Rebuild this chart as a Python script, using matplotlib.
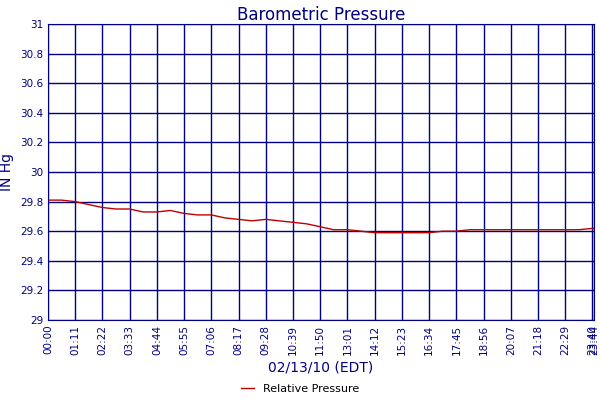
import matplotlib.pyplot as plt
import matplotlib.ticker as ticker

# readings, minutes since midnight -> inches of mercury
minutes = [0, 35, 71, 106, 142, 177, 213, 248, 284, 319, 355, 390, 426, 461,
           497, 532, 568, 603, 639, 674, 710, 745, 781, 816, 852, 887, 923,
           958, 994, 1029, 1065, 1100, 1136, 1171, 1207, 1242, 1278, 1313,
           1349, 1384, 1424]
pressure = [29.81, 29.81, 29.80, 29.78, 29.76, 29.75, 29.75, 29.73, 29.73,
            29.74, 29.72, 29.71, 29.71, 29.69, 29.68, 29.67, 29.68, 29.67,
            29.66, 29.65, 29.63, 29.61, 29.61, 29.60, 29.59, 29.59, 29.59,
            29.59, 29.59, 29.60, 29.60, 29.61, 29.61, 29.61, 29.61, 29.61,
            29.61, 29.61, 29.61, 29.61, 29.62]
tick_pos = list(range(0, 1421, 71)) + [1424]
tick_labels = ['%02d:%02d' % (m // 60, m % 60) for m in tick_pos]

navy = '#000080'
fig = plt.figure(figsize=(6, 4), dpi=100)
ax = fig.add_axes([0.08, 0.2, 0.91, 0.74])

line, = ax.plot(minutes, pressure, color='#c00000', lw=1.0,
                label='Relative Pressure')

ax.set_xlim(0, 1424)
ax.set_ylim(29, 31)
ax.yaxis.set_major_locator(ticker.MultipleLocator(0.2))
ax.yaxis.set_major_formatter(ticker.FuncFormatter(lambda v, p: ('%.1f' % v).rstrip('0').rstrip('.')))
ax.set_xticks(tick_pos)
ax.set_xticklabels(tick_labels, rotation=90)
ax.tick_params(colors=navy, labelsize=7.5, length=0)
ax.grid(color=navy, lw=1)
for s in ax.spines.values():
    s.set_color(navy)

ax.set_title('Barometric Pressure', color=navy, fontsize=12, pad=3)
ax.set_ylabel('IN Hg', color=navy, fontsize=10)
ax.set_xlabel('02/13/10 (EDT)', color=navy, fontsize=10, labelpad=4)
fig.legend(handles=[line], loc='lower center', bbox_to_anchor=(0.5, -0.01),
           frameon=False, fontsize=8, handlelength=1.2)

plt.savefig('out.png')
